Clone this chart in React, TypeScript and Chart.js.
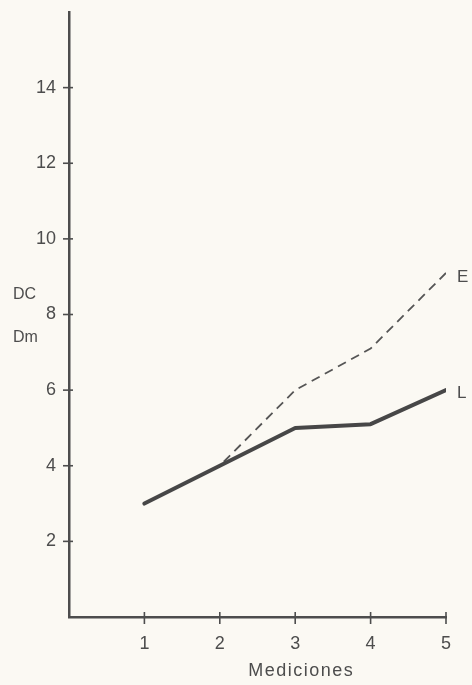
import React, { useEffect, useRef } from "react";
import { Chart, registerables } from "chart.js";

Chart.register(...registerables);

const mediciones = [1, 2, 3, 4, 5];
const serieL = [3, 4, 5, 5.1, 6];
const serieE = [3, 4, 6, 7.1, 9.1];
const yTickLabels = [2, 4, 6, 8, 10, 12, 14];
const xTickLabels = [1, 2, 3, 4, 5];
const xTitle = "Mediciones";
const yTitleTop = "DC";
const yTitleBottom = "Dm";
const labelE = "E";
const labelL = "L";

const INK = "#4d4d4d";
const FONT = "'Liberation Sans', 'DejaVu Sans', sans-serif";

export default function App() {
  const ref = useRef<HTMLCanvasElement | null>(null);

  useEffect(() => {
    if (!ref.current) return;
    const annot = {
      id: "annot",
      afterDraw(chart: any) {
        const { ctx, scales } = chart;
        const xs = scales.x;
        const ys = scales.y;
        ctx.save();
        ctx.strokeStyle = INK;
        ctx.lineWidth = 1.6;
        yTickLabels.forEach((v) => {
          const py = ys.getPixelForValue(v);
          ctx.beginPath();
          ctx.moveTo(xs.left - 6, py);
          ctx.lineTo(xs.left + 4, py);
          ctx.stroke();
        });
        xTickLabels.forEach((v) => {
          const px = xs.getPixelForValue(v);
          ctx.beginPath();
          ctx.moveTo(px, ys.bottom - 5);
          ctx.lineTo(px, ys.bottom + 7);
          ctx.stroke();
        });
        ctx.fillStyle = INK;
        ctx.font = `17px ${FONT}`;
        ctx.textBaseline = "middle";
        ctx.textAlign = "left";
        const last = mediciones.length - 1;
        const xEnd = xs.getPixelForValue(mediciones[last]);
        ctx.fillText(labelE, xEnd + 11, ys.getPixelForValue(serieE[last]) + 4);
        ctx.fillText(labelL, xEnd + 11, ys.getPixelForValue(serieL[last]) + 3);
        ctx.font = `16px ${FONT}`;
        ctx.fillText(yTitleTop, 13, ys.getPixelForValue(8) - 20);
        ctx.fillText(yTitleBottom, 13, ys.getPixelForValue(8) + 23);
        ctx.font = `18px ${FONT}`;
        ctx.textAlign = "center";
        (ctx as any).letterSpacing = "1.5px";
        ctx.fillText(xTitle, xs.getPixelForValue(3) + 6, ys.bottom + 54);
        ctx.restore();
      },
    };

    const chart = new Chart(ref.current, {
      type: "line",
      data: {
        datasets: [
          {
            label: "L",
            data: mediciones.map((m, i) => ({ x: m, y: serieL[i] })),
            borderColor: "#474747",
            borderWidth: 4,
            pointRadius: 0,
            tension: 0,
            fill: false,
            borderCapStyle: "round",
            borderJoinStyle: "round",
          },
          {
            label: "E",
            data: mediciones.map((m, i) => ({ x: m, y: serieE[i] })),
            borderColor: "#555555",
            borderWidth: 1.8,
            borderDash: [9, 6],
            pointRadius: 0,
            tension: 0,
            fill: false,
          },
        ],
      },
      options: {
        animation: false,
        responsive: false,
        maintainAspectRatio: false,
        layout: { padding: { top: 12, right: 26, left: 0, bottom: 0 } },
        plugins: { legend: { display: false }, tooltip: { enabled: false } },
        scales: {
          x: {
            type: "linear",
            min: 0,
            max: 5,
            afterFit: (s: any) => {
              s.height = 68;
              s.paddingLeft = 0;
              s.paddingRight = 0;
            },
            grid: { display: false, drawTicks: false },
            border: { display: true, color: INK, width: 2.5 },
            ticks: {
              stepSize: 1,
              padding: 16,
              color: INK,
              font: { family: FONT, size: 18 },
              callback: (v: any) => (xTickLabels.includes(Number(v)) ? String(v) : ""),
            },
          },
          y: {
            type: "linear",
            min: 0,
            max: 16,
            afterFit: (s: any) => {
              s.width = 69;
              s.paddingTop = 0;
              s.paddingBottom = 0;
            },
            grid: { display: false, drawTicks: false },
            border: { display: true, color: INK, width: 2.5 },
            ticks: {
              stepSize: 2,
              padding: 13,
              color: INK,
              font: { family: FONT, size: 18 },
              callback: (v: any) => (yTickLabels.includes(Number(v)) ? String(v) : ""),
            },
          },
        },
      },
      plugins: [annot],
    });
    return () => chart.destroy();
  }, []);

  return (
    <div style={{ position: "absolute", left: 0, top: 0, width: 472, height: 685, background: "#fbf9f3" }}>
      <canvas ref={ref} width={472} height={685} style={{ width: 472, height: 685, display: "block" }} />
    </div>
  );
}
